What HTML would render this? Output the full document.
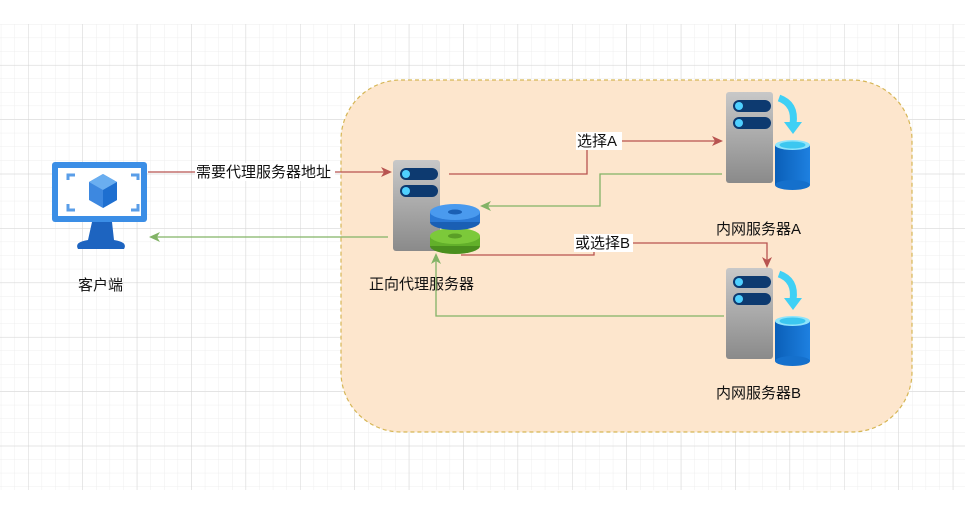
<!DOCTYPE html>
<html><head><meta charset="utf-8"><style>
body{margin:0;background:#fff;}
svg{display:block;}
text{font-family:"Liberation Sans","Noto Sans CJK SC",sans-serif;font-size:15px;fill:#111;}
</style></head><body>
<svg width="965" height="509" viewBox="0 0 965 509" xmlns="http://www.w3.org/2000/svg">
<defs>
<pattern id="minor" x="0.8" y="24" width="13.6" height="13.6" patternUnits="userSpaceOnUse">
<path d="M0 0V13.6M0 0H13.6" stroke="#eeeeee" stroke-width="1" fill="none"/>
</pattern>
<pattern id="major" x="28" y="10.6" width="54.4" height="54.4" patternUnits="userSpaceOnUse">
<path d="M0 0V54.4M0 0H54.4" stroke="#d4d4d4" stroke-width="1" fill="none"/>
</pattern>
<linearGradient id="srv" x1="0" y1="0" x2="0" y2="1"><stop offset="0" stop-color="#c8c8c8"/><stop offset="1" stop-color="#8a8a8a"/></linearGradient>
<linearGradient id="cyl" x1="0" y1="0" x2="1" y2="0"><stop offset="0" stop-color="#0a5fb8"/><stop offset="1" stop-color="#1e80e0"/></linearGradient>
<g id="server">
<rect x="0" y="0" width="47" height="91" rx="3" fill="url(#srv)"/>
<rect x="7" y="8" width="38" height="12" rx="6" fill="#0d3a70"/>
<circle cx="13" cy="14" r="4" fill="#4fd0ff"/>
<rect x="7" y="25" width="38" height="12" rx="6" fill="#0d3a70"/>
<circle cx="13" cy="31" r="4" fill="#4fd0ff"/>
</g>
<g id="srvdb">
<use href="#server"/>
<path d="M53 6 Q70 12 67 32" stroke="#3fd0f5" stroke-width="7" fill="none"/>
<path d="M58 30 L76 30 L67 42 Z" fill="#3fd0f5"/>
<rect x="49" y="53" width="35" height="40" fill="url(#cyl)"/>
<ellipse cx="66.5" cy="93" rx="17.5" ry="5" fill="#1570cc"/>
<ellipse cx="66.5" cy="53" rx="17.5" ry="5" fill="#8fe4fb"/>
<ellipse cx="66.5" cy="53" rx="13" ry="3.5" fill="#3cc7f0"/>
</g>
</defs>
<rect x="0" y="24" width="965" height="466" fill="url(#minor)"/>
<rect x="0" y="24" width="965" height="466" fill="url(#major)"/>
<rect x="341" y="80" width="571" height="352" rx="60" fill="#fde6cd" stroke="#d6b656" stroke-dasharray="4 3" stroke-width="1.2"/>

<rect x="52" y="162" width="95" height="60" rx="3" fill="#3b8ee6"/>
<rect x="58" y="168" width="83" height="48" fill="#fff"/>
<path d="M68 180V175H75 M131 175H138V180 M68 204V210H75 M131 210H138V204" stroke="#5a9ee8" stroke-width="3" fill="none"/>
<path d="M103 174 L117 182 L117 200 L103 208 L89 200 L89 182 Z" fill="#3d88e0"/>
<path d="M103 174 L117 182 L103 190 L89 182 Z" fill="#6aaef0"/>
<path d="M103 190 L117 182 L117 200 L103 208 Z" fill="#1e6fd0"/>
<path d="M92 222 L112 222 L114 240 Q128 242 124 249 L78 249 Q74 242 88 240 Z" fill="#1d64c0"/>
<text x="78" y="290">客户端</text>

<use href="#server" x="393" y="160"/>
<ellipse cx="455" cy="246" rx="25" ry="8" fill="#4a8f1e"/>
<rect x="430" y="236" width="50" height="10" fill="#62b02a"/>
<ellipse cx="455" cy="236" rx="25" ry="8" fill="#7cc93a"/>
<ellipse cx="455" cy="236" rx="7" ry="2.5" fill="#5a9e26"/>
<ellipse cx="455" cy="222" rx="25" ry="8" fill="#1a5fb4"/>
<rect x="430" y="212" width="50" height="10" fill="#2a78d4"/>
<ellipse cx="455" cy="212" rx="25" ry="8" fill="#4a9aee"/>
<ellipse cx="455" cy="212" rx="7" ry="2.5" fill="#1a5fb4"/>
<text x="369" y="289">正向代理服务器</text>

<use href="#srvdb" x="726" y="92"/>
<text x="716" y="234">内网服务器A</text>
<use href="#srvdb" x="726" y="268"/>
<text x="716" y="398">内网服务器B</text>

<g fill="none" stroke-width="1.3">
<path d="M148 172 H384" stroke="#b85450"/>
<path d="M388 237 H157" stroke="#82b366"/>
<path d="M449 174 H587 V141 H715" stroke="#b85450"/>
<path d="M722 174 H600 V206 H488" stroke="#82b366"/>
<path d="M461 255 H594 V243 H767 V260" stroke="#b85450"/>
<path d="M724 316 H436 V261" stroke="#82b366"/>
</g>
<path d="M392 172 L381 167 L384 172 L381 177 Z" fill="#b85450"/>
<path d="M149 237 L160 232 L157 237 L160 242 Z" fill="#82b366"/>
<path d="M723 141 L712 136 L715 141 L712 146 Z" fill="#b85450"/>
<path d="M480 206 L491 201 L488 206 L491 211 Z" fill="#82b366"/>
<path d="M767 268 L762 257 L767 260 L772 257 Z" fill="#b85450"/>
<path d="M436 253 L431 264 L436 261 L441 264 Z" fill="#82b366"/>

<rect x="195" y="163" width="140" height="18" fill="#fff"/>
<text x="196" y="177">需要代理服务器地址</text>
<rect x="576" y="132" width="46" height="18" fill="#fff"/>
<text x="577" y="146">选择A</text>
<rect x="574" y="234" width="59" height="18" fill="#fff"/>
<text x="575" y="248">或选择B</text>
</svg>
</body></html>
